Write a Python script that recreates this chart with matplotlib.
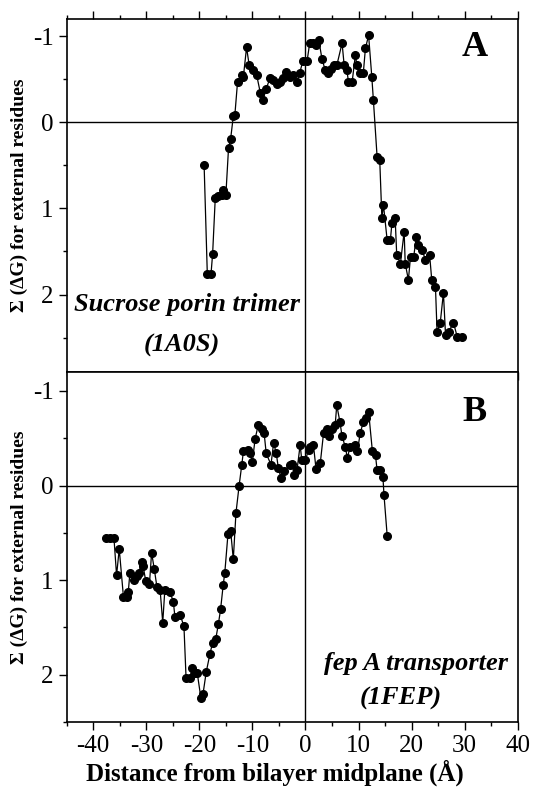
import matplotlib
matplotlib.use("Agg")
import matplotlib.pyplot as plt
from matplotlib.ticker import MultipleLocator

plt.rcParams['font.family'] = ['Liberation Serif', 'DejaVu Serif']
plt.rcParams['axes.unicode_minus'] = False

# Panel A: Sucrose porin trimer (1A0S)
a_x = [-19.1, -18.5, -17.8, -17.5, -17.0, -16.4, -15.8, -15.5, -15.0, -14.5, -14.1, -13.6, -13.3,
       -12.8, -12.0, -11.7, -11.1, -10.6, -9.8, -9.2, -8.5, -8.0, -7.4, -6.7, -6.2, -5.4, -4.8,
       -4.2, -3.6, -2.9, -2.3, -1.6, -1.1, -0.5, 0.3, 0.8, 1.5, 2.0, 2.5, 3.1, 3.7, 4.3, 4.8,
       5.3, 5.9, 6.9, 7.3, 7.8, 8.1, 8.8, 9.4, 9.7, 10.3, 10.9, 11.3, 11.9, 12.5, 12.8, 13.5,
       14.0, 14.4, 14.7, 15.4, 16.0, 16.3, 16.9, 17.2, 17.9, 18.6, 18.8, 19.4, 19.8, 20.4, 20.9,
       21.3, 22.0, 22.6, 23.4, 23.8, 24.5, 24.8, 25.4, 26.0, 26.4, 27.0, 27.9, 28.6, 29.5]
a_y = [0.50, 1.76, 1.76, 1.53, 0.88, 0.86, 0.85, 0.79, 0.84, 0.30, 0.19, -0.07, -0.09,
       -0.47, -0.55, -0.53, -0.87, -0.66, -0.61, -0.55, -0.34, -0.26, -0.39, -0.51, -0.49, -0.45, -0.47,
       -0.52, -0.59, -0.53, -0.55, -0.47, -0.57, -0.71, -0.71, -0.92, -0.92, -0.90, -0.96, -0.74, -0.61, -0.57, -0.62,
       -0.66, -0.66, -0.92, -0.66, -0.61, -0.47, -0.47, -0.78, -0.66, -0.57, -0.57, -0.86, -1.01, -0.53, -0.26, 0.40,
       0.44, 1.11, 0.96, 1.37, 1.37, 1.17, 1.11, 1.54, 1.64, 1.27, 1.64, 1.83, 1.56, 1.56, 1.33,
       1.42, 1.48, 1.60, 1.54, 1.83, 1.91, 2.43, 2.33, 1.98, 2.47, 2.43, 2.33, 2.49, 2.49]

# Panel B: fep A transporter (1FEP)
b_x = [-37.5, -36.8, -36.1, -35.6, -35.1, -34.3, -33.7, -33.4, -33.1, -32.3, -31.8, -31.4, -30.9,
       -30.6, -30.1, -29.4, -29.0, -28.5, -28.0, -27.4, -26.9, -26.5, -25.5, -24.9, -24.6, -23.6,
       -22.9, -22.5, -21.8, -21.4, -20.9, -20.4, -19.7, -19.3, -18.7, -18.0, -17.5, -16.9, -16.4,
       -16.0, -15.5, -15.2, -14.6, -14.1, -13.6, -13.1, -12.5, -12.0, -11.7, -10.9, -10.4, -10.0,
       -9.5, -8.9, -8.2, -7.8, -7.4, -6.5, -6.0, -5.5, -5.1, -4.6, -4.0, -3.0, -2.6, -2.1, -1.6,
       -1.0, -0.7, 0.0, 0.6, 0.9, 1.5, 2.0, 2.8, 3.4, 4.0, 4.5, 5.0, 5.6, 5.9, 6.5, 6.9, 7.5,
       7.9, 8.4, 9.4, 9.8, 10.3, 10.9, 11.5, 11.9, 12.6, 13.2, 13.5, 14.1, 14.6, 14.8, 15.4]
b_y = [0.55, 0.55, 0.55, 0.95, 0.67, 1.18, 1.18, 1.13, 0.93, 1.00, 0.96, 0.93, 0.81,
       0.85, 1.01, 1.04, 0.71, 0.88, 1.07, 1.10, 1.45, 1.10, 1.13, 1.23, 1.39, 1.37,
       1.49, 2.04, 2.04, 1.93, 1.98, 1.98, 2.25, 2.20, 1.97, 1.78, 1.66, 1.62, 1.46,
       1.31, 1.05, 0.92, 0.51, 0.48, 0.78, 0.29, 0.00, -0.22, -0.36, -0.38, -0.34, -0.25,
       -0.49, -0.64, -0.60, -0.56, -0.34, -0.22, -0.45, -0.34, -0.18, -0.08, -0.15, -0.22, -0.23, -0.11, -0.16,
       -0.43, -0.27, -0.27, -0.38, -0.41, -0.43, -0.17, -0.24, -0.55, -0.60, -0.52, -0.60, -0.64, -0.85, -0.67, -0.52, -0.41,
       -0.29, -0.41, -0.43, -0.36, -0.55, -0.67, -0.71, -0.78, -0.37, -0.32, -0.16, -0.16, -0.09, 0.10, 0.53]

x_ticks = [-40, -30, -20, -10, 0, 10, 20, 30, 40]
y_ticks = [-1, 0, 1, 2]

W, H = 533, 802
fig = plt.figure(figsize=(W / 100, H / 100), dpi=100)
left, right = 66.7 / W, 517.7 / W
axA = fig.add_axes([left, 1 - 372 / H, right - left, (372 - 19) / H])
axB = fig.add_axes([left, 1 - 722 / H, right - left, (722 - 372) / H])

for ax, xs, ys, ylim in [(axA, a_x, a_y, (2.9, -1.2)), (axB, b_x, b_y, (2.5, -1.2))]:
    ax.axhline(0, color='black', lw=1.0, zorder=1)
    ax.axvline(0, color='black', lw=1.0, zorder=1)
    ax.plot(xs, ys, '-o', color='black', lw=0.9, markersize=5.5, zorder=3)
    ax.set_xlim(-45, 40)
    ax.set_ylim(*ylim)
    ax.set_xticks(x_ticks)
    ax.set_yticks(y_ticks)
    ax.set_yticklabels([str(v) for v in y_ticks])
    ax.xaxis.set_minor_locator(MultipleLocator(5))
    ax.yaxis.set_minor_locator(MultipleLocator(0.5))
    ax.tick_params(which='major', direction='out', length=6, width=1, labelsize=18)
    ax.tick_params(which='minor', direction='out', length=3, width=1)
    for s in ax.spines.values():
        s.set_linewidth(1.2)
    ax.set_ylabel('Σ (ΔG) for external residues', fontsize=14, fontweight='bold')
    ax.yaxis.set_label_coords(-0.086, 0.5)

axA.tick_params(axis='x', which='both', top=True, bottom=True, labelbottom=False)
axB.tick_params(axis='x', which='both', top=False, bottom=True)
axB.set_xticklabels([str(v) for v in x_ticks])
fig.text(275 / W, 1 - 773 / H, 'Distance from bilayer midplane (Å)', fontsize=18,
         fontweight='bold', ha='center', va='center')

axA.text(0.905, 0.918, 'A', transform=axA.transAxes, fontsize=26, fontweight='bold', ha='center', va='center')
axB.text(0.905, 0.883, 'B', transform=axB.transAxes, fontsize=26, fontweight='bold', ha='center', va='center')

axA.text(-22.3, 2.12, 'Sucrose porin trimer', fontsize=19, fontweight='bold', style='italic', ha='center', va='center')
axA.text(-23.3, 2.59, '(1A0S)', fontsize=19, fontweight='bold', style='italic', ha='center', va='center')
axB.text(20.9, 1.88, 'fep A transporter', fontsize=19, fontweight='bold', style='italic', ha='center', va='center')
axB.text(18.0, 2.25, '(1FEP)', fontsize=19, fontweight='bold', style='italic', ha='center', va='center')

fig.savefig('out.png', dpi=100)
